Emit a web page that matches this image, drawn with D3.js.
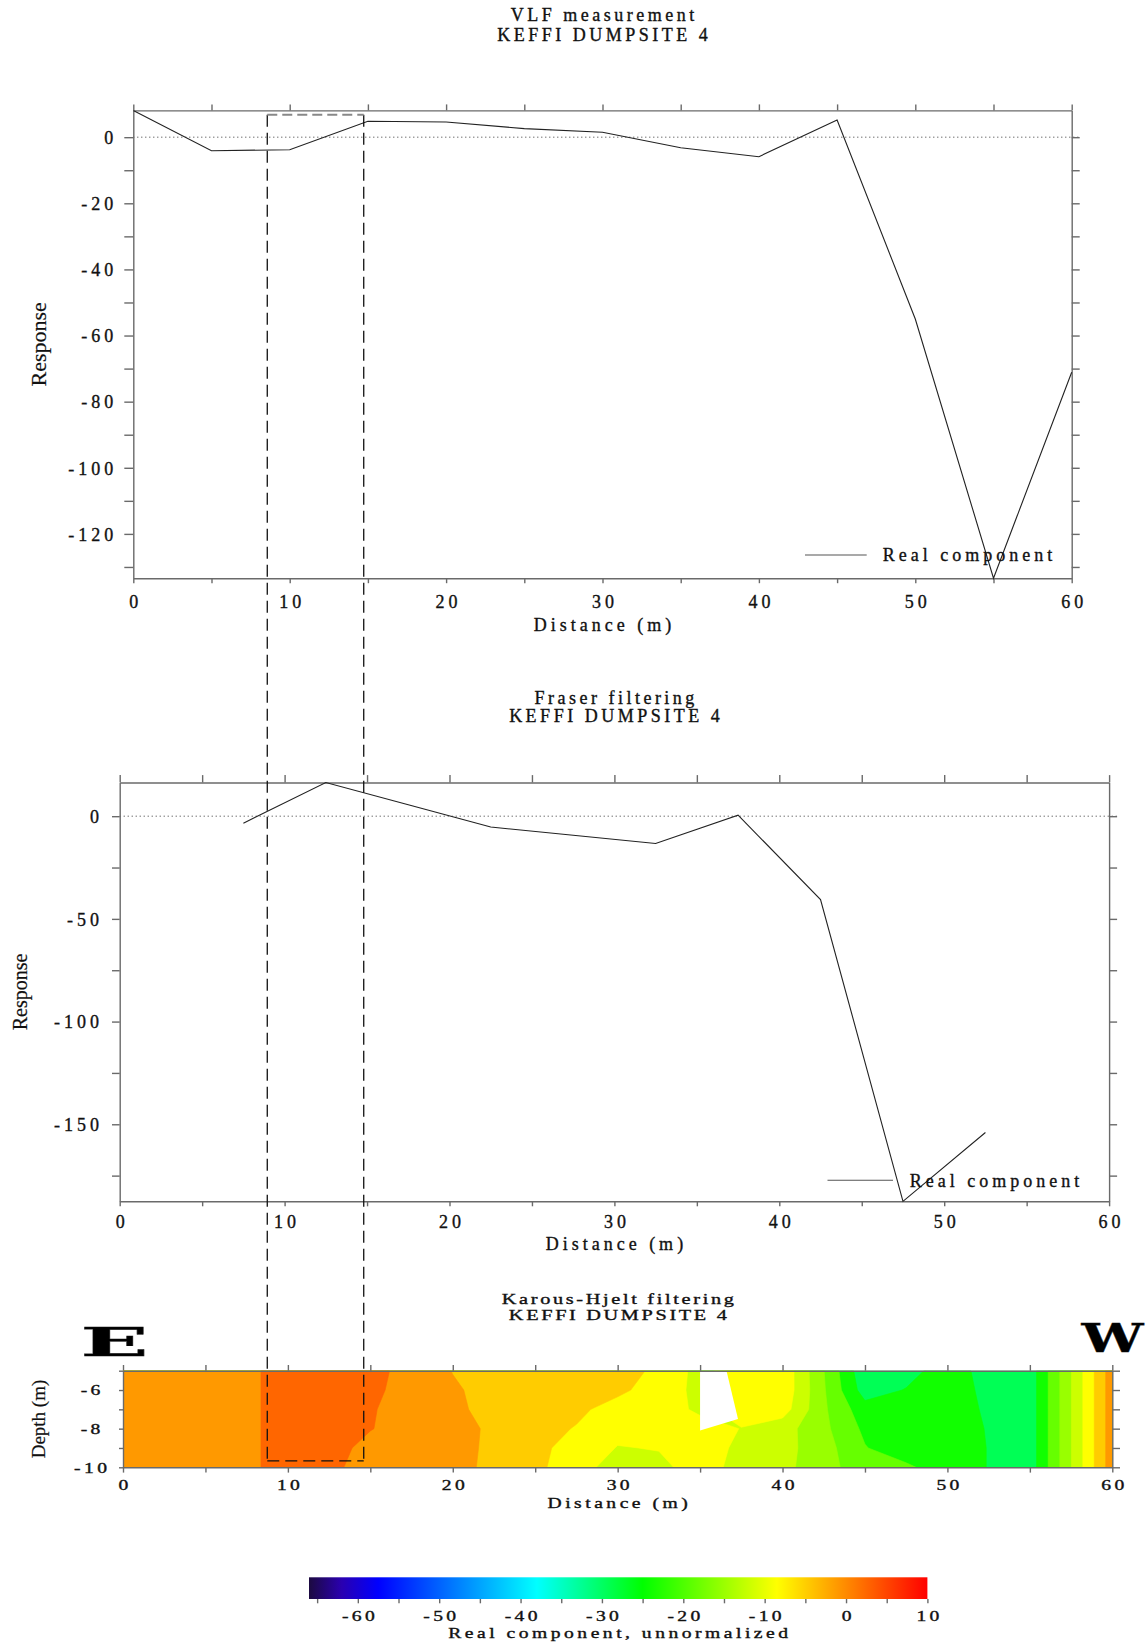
<!DOCTYPE html>
<html lang="en">
<head>
<meta charset="UTF-8">
<title>VLF measurement - KEFFI DUMPSITE 4</title>
<script src="https://cdnjs.cloudflare.com/ajax/libs/d3/7.8.5/d3.min.js"></script>
<style>
  body { margin: 0; background: #fff; }
  svg { display: block; font-family: 'Liberation Serif', 'Times New Roman', serif; }
  svg text { stroke: #111; stroke-width: 0.35px; }
  .title { font-size: 18px; letter-spacing: 3.5px; text-anchor: middle; fill: #111; }
  .title-sm { font-size: 14.5px; letter-spacing: 1.9px; text-anchor: middle; fill: #111; }
  .axis path, .axis line { stroke: #6a6a6a; stroke-width: 1.4; }
  .axis text { font-family: 'Liberation Serif', serif; font-size: 18px; letter-spacing: 4px; fill: #111; }
  .axis-sm text { font-size: 14px; letter-spacing: 2.4px; }
  .axis-label { font-size: 18px; letter-spacing: 4px; text-anchor: middle; fill: #111; }
  .axis-label-sm { font-size: 14px; letter-spacing: 2.5px; text-anchor: middle; fill: #111; }
  .ylab { text-anchor: middle; fill: #111; stroke-width: 0.2px; }
  .legend { font-size: 18px; letter-spacing: 4px; fill: #111; }
  .big { font-family: 'DejaVu Serif', serif; font-weight: bold; font-size: 40px; fill: #000; }
</style>
</head>
<body>
<svg id="chart" width="1147" height="1645"></svg>
<script>
// VLF measurement (real component) along the profile
const vlfDistance = [0, 5, 10, 15, 20, 25, 30, 35, 40, 45, 50, 55, 60];
const vlfReal = [8.1, -4.1, -3.8, 4.8, 4.6, 2.6, 1.5, -3.2, -5.9, 5.2, -55.0, -133.4, -71.1];

// Fraser filtered values (between stations)
const fraserDistance = [7.5, 12.5, 17.5, 22.5, 27.5, 32.5, 37.5, 42.5, 47.5, 52.5];
const fraserReal = [-3.4, 16.4, 5.6, -5.3, -9.3, -13.3, 0.5, -40.6, -187.5, -154.0];

// Karous-Hjelt pseudo section: one row per depth, one column per distance
const khDistance = [0, 2.5, 5, 7.5, 10, 12.5, 15, 17.5, 20, 22.5, 25, 27.5, 30,
                    32.5, 35, 37.5, 40, 42.5, 45, 47.5, 50, 52.5, 55, 57.5, 60];
const khDepth = [-5, -6, -7, -8, -9, -10];
const khReal = [
  [-3.0, -3.0, -3.0, -3.0, 1.6, 1.5, 0.0, -3.0, -5.3, -6.5, -7.0, -7.2, -7.0, -10.0, -14.0, -10.5, -9.9, -20.3, -30.9, -29.5, -26.0, -29.5, -30.2, -16.7, -3.0],
  [-3.0, -3.0, -3.0, -3.0, 1.6, 1.5, -0.5, -3.0, -4.8, -6.3, -7.0, -7.5, -8.3, -10.5, -14.0, -10.8, -10.0, -20.0, -29.8, -27.8, -26.0, -29.0, -30.2, -16.7, -3.0],
  [-3.0, -3.0, -3.0, -3.0, 1.6, 1.2, -1.0, -3.4, -4.7, -6.0, -7.5, -8.3, -10.3, -11.0, -13.5, -11.5, -11.0, -19.8, -26.5, -27.0, -26.0, -28.6, -30.2, -16.7, -3.0],
  [-3.0, -3.0, -3.0, -3.0, 1.6, 1.0, -1.2, -3.5, -4.6, -5.5, -7.8, -9.2, -11.5, -11.5, -11.3, -12.9, -15.0, -19.5, -25.0, -26.5, -26.4, -28.2, -30.2, -16.7, -3.0],
  [-3.0, -3.0, -3.0, -3.0, 1.6, 0.5, -2.9, -4.0, -4.7, -5.5, -8.4, -9.9, -13.0, -12.6, -11.0, -13.6, -15.3, -18.8, -24.0, -26.5, -26.4, -28.1, -30.2, -16.7, -3.0],
  [-3.0, -3.0, -3.0, -3.0, 1.6, 0.0, -3.9, -4.5, -4.8, -5.5, -8.0, -11.5, -14.2, -13.8, -11.0, -14.2, -15.5, -19.0, -22.5, -23.5, -26.4, -28.1, -30.2, -16.7, -3.0]
];
// blank (no data) patch in the section
const khBlank = [[35, -5], [36.6, -5], [37.3, -7.5], [35, -8.1]];
// contour levels and fill colours
const khLevels = [-31.8, -28, -24.2, -20.4, -16.6, -12.8, -9.0, -5.2, -1.4, 2.4, 6.2];
const khColors = ['#00ff55', '#11ff00', '#66ff00', '#99ff00', '#ccff00', '#ffff00', '#ffcc00', '#ff9900', '#ff6600', '#ff3300', '#ff0000'];

// colour bar
const cbStops = [[-66, '#1c0a40'], [-62, '#2a00b0'], [-57.5, '#0000ff'], [-38, '#00ffff'], [-25, '#00ff00'], [-8.5, '#ffff00'], [10, '#ff0000']];
const cbTicks = [-65, -60, -55, -50, -45, -40, -35, -30, -25, -20, -15, -10, -5, 0, 5, 10];

// highlighted zone (dashed box)
const zoneX = [8.75, 14.6];
const zoneTop = 6.8;
const zoneBottom = -9.67;

const distTicks = [0, 5, 10, 15, 20, 25, 30, 35, 40, 45, 50, 55, 60];
const WIDE = 1.4;   // horizontal stretch of the small lettering

const svg = d3.select('#chart');

function profileChart(cfg) {
    const x = d3.scaleLinear().domain([0, 60]).range([cfg.left, cfg.right]);
    const y = d3.scaleLinear().domain(d3.extent(cfg.values)).range([cfg.bottom, cfg.top]);
    const g = svg.append('g');
    const cx = (cfg.left + cfg.right) / 2;

    cfg.title.forEach((t, i) => {
        g.append('text').attr('class', 'title')
            .attr('x', cx + 1.75).attr('y', cfg.titleY[i]).text(t);
    });

    // zero line
    g.append('line')
        .attr('x1', cfg.left).attr('x2', cfg.right + cfg.ticks.right)
        .attr('y1', y(0)).attr('y2', y(0))
        .attr('stroke', '#333').attr('stroke-width', 1)
        .attr('stroke-dasharray', '1,3');

    const fmtX = d => d % 10 === 0 ? String(d) : '';
    const fmtY = d => d % cfg.yLabelStep === 0 ? String(d) : '';

    g.append('g').attr('class', 'axis')
        .attr('transform', `translate(0,${cfg.bottom})`)
        .call(d3.axisBottom(x).tickValues(distTicks).tickSize(cfg.ticks.bottom).tickSizeOuter(0).tickFormat(fmtX))
        .call(a => a.selectAll('text').attr('y', cfg.xLabelOff).attr('dy', '0.35em').attr('dx', 2));

    g.append('g').attr('class', 'axis')
        .attr('transform', `translate(0,${cfg.top})`)
        .call(d3.axisTop(x).tickValues(distTicks).tickSize(cfg.ticks.top).tickSizeOuter(0).tickFormat(''));

    g.append('g').attr('class', 'axis')
        .attr('transform', `translate(${cfg.left},0)`)
        .call(d3.axisLeft(y).tickValues(cfg.yTicks).tickSize(cfg.ticks.left).tickSizeOuter(0).tickFormat(fmtY))
        .call(a => a.selectAll('text').attr('x', cfg.yLabelOff + 4).attr('dy', '0.35em'));

    g.append('g').attr('class', 'axis')
        .attr('transform', `translate(${cfg.right},0)`)
        .call(d3.axisRight(y).tickValues(cfg.yTicks).tickSize(cfg.ticks.right).tickSizeOuter(0).tickFormat(''));

    g.append('text').attr('class', 'axis-label')
        .attr('x', cx + 2).attr('y', cfg.bottom + cfg.xTitleOff).attr('dy', '0.35em')
        .text('Distance (m)');

    g.append('text').attr('class', 'ylab')
        .attr('transform', `translate(${cfg.yTitleX},${(cfg.top + cfg.bottom) / 2}) rotate(-90)`)
        .attr('dy', '0.35em')
        .style('font-size', cfg.yTitleSize + 'px')
        .text('Response');

    const line = d3.line().x(d => x(d[0])).y(d => y(d[1]));
    g.append('path')
        .datum(d3.zip(cfg.distance, cfg.values))
        .attr('d', line)
        .attr('fill', 'none').attr('stroke', '#222').attr('stroke-width', 1.1);

    // legend
    g.append('line')
        .attr('x1', cfg.legend[0]).attr('x2', cfg.legend[1])
        .attr('y1', cfg.legend[2]).attr('y2', cfg.legend[2])
        .attr('stroke', '#555').attr('stroke-width', 1.1);
    g.append('text').attr('class', 'legend')
        .attr('x', cfg.legend[3]).attr('y', cfg.legend[2]).attr('dy', '0.35em')
        .text('Real component');

    return { x, y };
}

const vlfChart = profileChart({
    left: 133.3, right: 1071.7, top: 110.4, bottom: 578.2,
    distance: vlfDistance, values: vlfReal,
    title: ['VLF measurement', 'KEFFI DUMPSITE 4'], titleY: [21, 41],
    yTicks: [0, -10, -20, -30, -40, -50, -60, -70, -80, -90, -100, -110, -120, -130],
    yLabelStep: 20,
    ticks: { left: 9, right: 8, top: 6, bottom: 5 },
    xLabelOff: 23.2, xTitleOff: 46, yLabelOff: -20, yTitleX: 38.7, yTitleSize: 22,
    legend: [805, 866.7, 555, 882.7]
});

const fraserChart = profileChart({
    left: 119.7, right: 1109.1, top: 782.5, bottom: 1201.3,
    distance: fraserDistance, values: fraserReal,
    title: ['Fraser filtering', 'KEFFI DUMPSITE 4'], titleY: [704, 722],
    yTicks: [0, -25, -50, -75, -100, -125, -150, -175],
    yLabelStep: 50,
    ticks: { left: 7.7, right: 8, top: 7.4, bottom: 5 },
    xLabelOff: 20.7, xTitleOff: 42.2, yLabelOff: -20.7, yTitleX: 20, yTitleSize: 20,
    legend: [827.5, 893, 1180.3, 909.8]
});

// stretched lettering used in the lower panel
function wideText(g, cls, x, y, txt) {
    return g.append('text').attr('class', cls)
        .attr('transform', `translate(${x},${y}) scale(${WIDE},1)`)
        .attr('dy', '0.35em')
        .text(txt);
}

// ---- Karous-Hjelt section ----
const H = { left: 123, right: 1112.3, top: 1370.7, bottom: 1467.3 };
const xH = d3.scaleLinear().domain([0, 60]).range([H.left, H.right]);
const yH = d3.scaleLinear().domain([-5, -10]).range([H.top, H.bottom]);
const hg = svg.append('g');

['Karous-Hjelt filtering', 'KEFFI DUMPSITE 4'].forEach((t, i) => {
    wideText(hg, 'title-sm', (H.left + H.right) / 2 + 1.5, [1299, 1315][i], t);
});

hg.append('clipPath').attr('id', 'khclip')
    .append('rect').attr('x', H.left).attr('y', H.top)
    .attr('width', H.right - H.left).attr('height', H.bottom - H.top);

const nx = khDistance.length, ny = khDepth.length;
const gx = d3.scaleLinear().domain([0.5, nx - 0.5]).range([khDistance[0], khDistance[nx - 1]]);
const gy = d3.scaleLinear().domain([0.5, ny - 0.5]).range([khDepth[0], khDepth[ny - 1]]);
const gridProj = d3.geoTransform({
    point: function(px, py) { this.stream.point(xH(gx(px)), yH(gy(py))); }
});
const bands = d3.contours().size([nx, ny]).smooth(true).thresholds(khLevels)(khReal.flat());

const fill = hg.append('g').attr('clip-path', 'url(#khclip)');
fill.selectAll('path.band')
    .data(bands)
    .join('path')
    .attr('class', 'band')
    .attr('d', d3.geoPath(gridProj))
    .attr('fill', (d, i) => khColors[i])
    .attr('stroke', (d, i) => khColors[i])
    .attr('stroke-width', 0.6);

fill.append('path')
    .datum(khBlank)
    .attr('d', d3.line().x(d => xH(d[0])).y(d => yH(d[1])).curve(d3.curveLinearClosed))
    .attr('fill', '#fff');

hg.append('g').attr('class', 'axis axis-sm')
    .attr('transform', `translate(0,${H.bottom})`)
    .call(d3.axisBottom(xH).tickValues(distTicks).tickSize(5.3).tickSizeOuter(0).tickFormat(d => d % 10 === 0 ? String(d) : ''))
    .call(a => a.select('.domain').attr('stroke', '#aaa').attr('stroke-width', 2))
    .call(a => a.selectAll('text').attr('y', 17.7).attr('dy', '0.35em').attr('dx', 1.2)
        .attr('transform', `scale(${WIDE},1)`));
hg.append('g').attr('class', 'axis axis-sm')
    .attr('transform', `translate(0,${H.top})`)
    .call(d3.axisTop(xH).tickValues(distTicks).tickSize(5.7).tickSizeOuter(0).tickFormat(''))
    .call(a => a.select('.domain').attr('stroke', '#aaa').attr('stroke-width', 2));
hg.append('g').attr('class', 'axis axis-sm')
    .attr('transform', `translate(${H.left},0)`)
    .call(d3.axisLeft(yH).tickValues([-5, -6, -7, -8, -9, -10]).tickSize(4).tickSizeOuter(0)
        .tickFormat(d => d % 2 === 0 ? String(d) : ''))
    .call(a => a.selectAll('text').attr('x', (-32.5 + 1.7) / WIDE).attr('dy', '0.35em')
        .style('text-anchor', 'middle').attr('transform', `scale(${WIDE},1)`));
hg.append('g').attr('class', 'axis axis-sm')
    .attr('transform', `translate(${H.right},0)`)
    .call(d3.axisRight(yH).tickValues([-5, -6, -7, -8, -9, -10]).tickSize(7.7).tickSizeOuter(0).tickFormat(''))
    .call(a => a.select('.domain').attr('stroke', '#222').attr('stroke-width', 1.6));

wideText(hg, 'axis-label-sm', (H.left + H.right) / 2 + 1.7, H.bottom + 35.5, 'Distance (m)');
hg.append('text').attr('class', 'ylab')
    .attr('transform', `translate(38,${(H.top + H.bottom) / 2}) rotate(-90)`)
    .attr('dy', '0.35em').style('font-size', '19px')
    .text('Depth (m)');

hg.append('text').attr('class', 'big')
    .attr('x', 80.5).attr('y', 1355.5)
    .attr('textLength', 68).attr('lengthAdjust', 'spacingAndGlyphs')
    .text('E');
hg.append('text').attr('class', 'big')
    .attr('x', 1081.5).attr('y', 1351.5)
    .attr('textLength', 62).attr('lengthAdjust', 'spacingAndGlyphs')
    .text('W');

// ---- dashed zone across the three panels ----
const zg = svg.append('g').attr('fill', 'none');
zoneX.forEach(v => {
    zg.append('line')
        .attr('x1', xH(v)).attr('x2', xH(v))
        .attr('y1', vlfChart.y(zoneTop)).attr('y2', yH(zoneBottom))
        .attr('stroke', '#111').attr('stroke-width', 1.3)
        .attr('stroke-dasharray', '12,6');
});
zg.append('line')
    .attr('x1', xH(zoneX[0])).attr('x2', xH(zoneX[1]))
    .attr('y1', vlfChart.y(zoneTop)).attr('y2', vlfChart.y(zoneTop))
    .attr('stroke', '#888').attr('stroke-width', 2)
    .attr('stroke-dasharray', '10,5');
zg.append('line')
    .attr('x1', xH(zoneX[0])).attr('x2', xH(zoneX[1]))
    .attr('y1', yH(zoneBottom)).attr('y2', yH(zoneBottom))
    .attr('stroke', '#111').attr('stroke-width', 1.3)
    .attr('stroke-dasharray', '12,6');

// ---- colour bar ----
const CB = { left: 309, right: 927.4, top: 1577.3, bottom: 1599 };
const xC = d3.scaleLinear().domain([-66, 10]).range([CB.left, CB.right]);
const cg = svg.append('g');
const grad = svg.append('defs').append('linearGradient')
    .attr('id', 'cbgrad').attr('x1', '0%').attr('x2', '100%').attr('y1', '0%').attr('y2', '0%');
grad.selectAll('stop')
    .data(cbStops)
    .join('stop')
    .attr('offset', d => ((xC(d[0]) - CB.left) / (CB.right - CB.left) * 100) + '%')
    .attr('stop-color', d => d[1]);
cg.append('rect')
    .attr('x', CB.left).attr('y', CB.top)
    .attr('width', CB.right - CB.left).attr('height', CB.bottom - CB.top)
    .attr('fill', 'url(#cbgrad)');
cg.append('g').attr('class', 'axis axis-sm')
    .attr('transform', `translate(0,${CB.bottom})`)
    .call(d3.axisBottom(xC).tickValues(cbTicks).tickSize(4.3).tickSizeOuter(0)
        .tickFormat(d => d % 10 === 0 ? String(d) : ''))
    .call(a => a.select('.domain').remove())
    .call(a => a.selectAll('text').attr('y', 16.7).attr('dy', '0.35em').attr('dx', 1.2)
        .attr('transform', `scale(${WIDE},1)`));
wideText(cg, 'axis-label-sm', (CB.left + CB.right) / 2 + 1.7, 1632.7, 'Real component, unnormalized');
</script>
</body>
</html>
